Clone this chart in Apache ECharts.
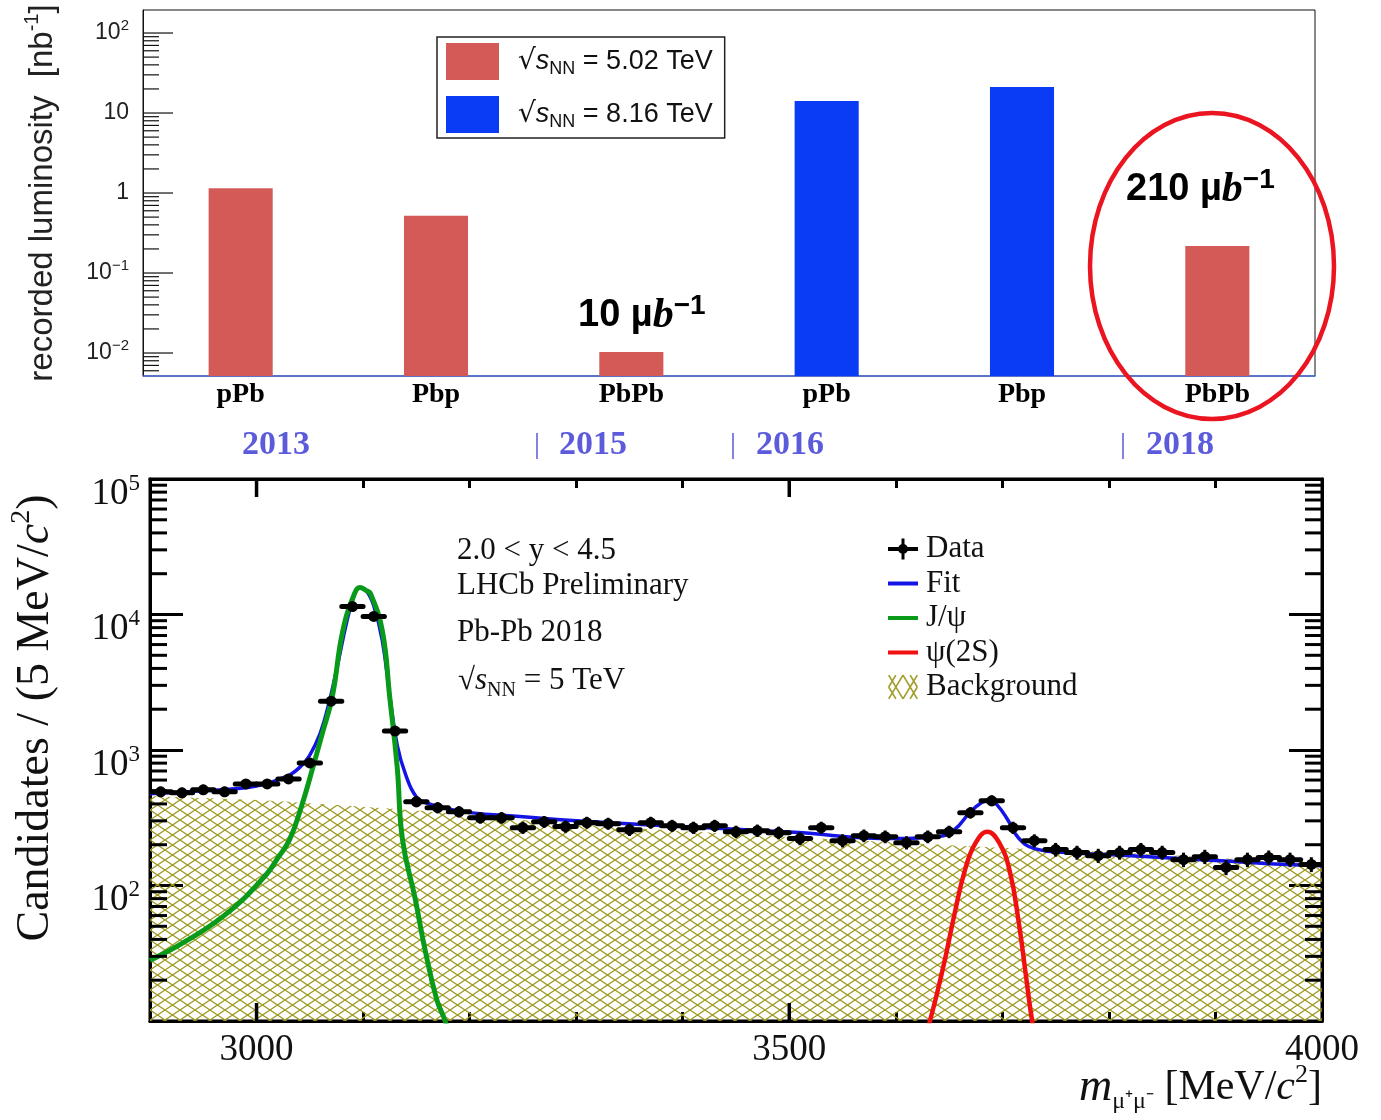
<!DOCTYPE html>
<html><head><meta charset="utf-8">
<script src="https://cdn.jsdelivr.net/npm/echarts@6/dist/echarts.min.js"></script>
<style>html,body{margin:0;padding:0;background:#fff}#c{width:1381px;height:1120px}</style>
</head><body><div id="c"></div>
<script>
// ---------- top panel: recorded luminosity ----------
const categories = ['pPb', 'Pbp', 'PbPb', 'pPb', 'Pbp', 'PbPb'];
const lumi502 = [1.15, 0.52, 0.0103, null, null, 0.217];
const lumi816 = [null, null, null, 14.1, 21.1, null];
const lumiSeriesNames = ['5.02 TeV', '8.16 TeV'];
const yearLabels = ['2013', '2015', '2016', '2018'];

// ---------- bottom panel: dimuon mass ----------
const massBins = [2910,2930,2950,2970,2990,3010,3030,3050,3070,3090,3110,3130,3150,3170,3190,3210,3230,3250,3270,3290,
  3310,3330,3350,3370,3390,3410,3430,3450,3470,3490,3510,3530,3550,3570,3590,3610,3630,3650,3670,3690,
  3710,3730,3750,3770,3790,3810,3830,3850,3870,3890,3910,3930,3950,3970,3990];
const dataCounts = [491,483,508,491,562,562,612,802,2293,11450,9670,1379,415,375,350,316,316,267,295,272,
  291,286,258,291,276,267,276,249,254,245,222,267,214,233,229,207,229,249,344,422,
  267,214,184,175,166,175,184,175,155,163,136,155,161,155,143];

const fitMass = [2900,2950,2980,3000,3020,3040,3055,3065,3075,3085,3092,3097,3103,3110,3118,3125,3132,3140,3150,3160,3180,3200,3250,3300,3400,3500,3600,3640,3655,3670,3680,3688,3695,3705,3715,3730,3760,3800,3850,3900,3950,4000];
const fitValues = [475,500,517,543,601,738,1089,1808,3873,9036,14030,15800,15000,11630,6440,2535,1089,655,450,405,368,345,322,300,272,248,222,230,258,350,407,429,394,306,225,187,175,169,161,153,145,140];

const jpsiMass = [2900,2934,2973,3009,3020,3031,3042,3053,3062,3071,3081,3092,3097,3103,3107,3118,3125,3132,3137,3149,3158,3169,3177,3185];
const jpsiValues = [28,39,63,120,160,218,380,750,1350,2455,7600,14300,15800,15000,14260,7620,2455,750,218,79,34,14.5,10,6];

const psi2sMass = [3620,3632,3645,3655,3665,3675,3686,3697,3707,3715,3722,3728,3738];
const psi2sValues = [5,10,26,61,131,207,249,207,127,56,22,10,4];

const bgMass = [2900,2950,3000,3050,3100,3150,3200,3250,3300,3400,3500,3600,3700,3800,3900,4000];
const bgValues = [458,442,427,405,382,358,332,305,282,252,228,208,190,176,160,140];

const xTickLabels = [3000, 3500, 4000];

const SERIF = '"Liberation Serif","Times New Roman",serif';
const SANS = '"Liberation Sans",Arial,sans-serif';

// minor log tick positions (axis structure)
function minorLogTicks(lo, hi) {
  const out = [];
  for (let n = -4; n <= 5; n++) for (let k = 2; k <= 9; k++) {
    const v = k * Math.pow(10, n);
    if (v > lo && v < hi) out.push(v);
  }
  return out;
}
function majorLogTicks(lo, hi) {
  const out = [];
  for (let n = -4; n <= 5; n++) { const v = Math.pow(10, n); if (v >= lo && v <= hi) out.push(v); }
  return out;
}

const topMin = 0.00516, topMax = 194;

// hatch pattern
const hatch = document.createElement('canvas');
hatch.width = 15; hatch.height = 10;
const hc = hatch.getContext('2d');
hc.strokeStyle = '#9e9a24'; hc.lineWidth = 1.3;
hc.beginPath(); hc.moveTo(0, 0); hc.lineTo(15, 10); hc.moveTo(0, 10); hc.lineTo(15, 0); hc.stroke();

function seg(x1, y1, x2, y2, w) {
  const dx = x2 - x1, dy = y2 - y1, L = Math.hypot(dx, dy);
  const nx = -dy / L * w / 2, ny = dx / L * w / 2;
  return 'M' + (x1 + nx) + ',' + (y1 + ny) + 'L' + (x2 + nx) + ',' + (y2 + ny) + 'L' + (x2 - nx) + ',' + (y2 - ny) + 'L' + (x1 - nx) + ',' + (y1 - ny) + 'Z';
}
const hatchIcon = 'path://' + seg(0, 0, 12, 20, 1.4) + seg(12, 0, 24, 20, 1.4) + seg(12, 0, 0, 20, 1.4) + seg(24, 0, 12, 20, 1.4) + seg(0, 10, 6, 0, 1.4) + seg(18, 0, 24, 10, 1.4) + seg(0, 10, 6, 20, 1.4) + seg(18, 20, 24, 10, 1.4);
const dataIcon = 'path://M0,12.5h30v4h-30zM13.5,4h3v21h-3zM20,14.5A5,5,0,1,1,10,14.5A5,5,0,1,1,20,14.5Z';
const lineIcon = 'path://M0,0h30v4h-30z';

function barItem(params, api) {
  const v = api.value(1);
  if (!(v > 0)) return null;
  const cs = params.coordSys;
  const p = api.coord([api.value(0), v]);
  const w = api.size([1, 0])[0] * 0.328;
  const base = cs.y + cs.height;
  return { type: 'rect', shape: { x: p[0] - w / 2, y: p[1], width: w, height: base - p[1] }, style: { fill: api.visual('color') } };
}

const chart = echarts.init(document.getElementById('c'));

const option = {
  animation: false,
  backgroundColor: '#fff',
  grid: [
    { left: 143, top: 10, width: 1172, height: 366, show: true, borderColor: '#111', borderWidth: 1, backgroundColor: 'transparent' },
    { left: 150, top: 479, width: 1172, height: 542, show: true, borderColor: '#000', borderWidth: 3, backgroundColor: 'transparent' }
  ],
  xAxis: [
    { type: 'category', gridIndex: 0, data: categories, boundaryGap: true,
      axisLine: { lineStyle: { color: '#4a72e0', width: 1.5 } }, axisTick: { show: false }, splitLine: { show: false },
      axisLabel: { color: '#000', fontFamily: SERIF, fontWeight: 'bold', fontSize: 28, margin: 5, interval: 0 } },
    { type: 'value', gridIndex: 1, position: 'bottom', min: 2900, max: 4000, interval: 100,
      axisLine: { lineStyle: { color: '#000', width: 3 } },
      axisTick: { inside: true, length: 9, lineStyle: { color: '#000', width: 3 } },
      splitLine: { show: false },
      axisLabel: { color: '#111', fontFamily: SERIF, fontSize: 37, margin: 11,
        formatter: v => (xTickLabels.indexOf(v) >= 0 ? String(v) : '') } },
    { type: 'value', gridIndex: 1, position: 'top', min: 2900, max: 4000, interval: 100,
      axisLine: { lineStyle: { color: '#000', width: 3 } },
      axisTick: { inside: true, length: 9, lineStyle: { color: '#000', width: 3 } },
      splitLine: { show: false }, axisLabel: { show: false } }
  ],
  yAxis: [
    { type: 'log', gridIndex: 0, min: topMin, max: topMax, logBase: 10,
      axisLine: { show: true, lineStyle: { color: '#111', width: 1 } }, axisTick: { show: false }, splitLine: { show: false },
      minorTick: { show: false }, minorSplitLine: { show: false },
      showMinLabel: false, showMaxLabel: false,
      axisLabel: { color: '#222', fontFamily: SANS, fontSize: 23, margin: 14, lineHeight: 30,
        rich: { sup: { fontFamily: SANS, fontSize: 15, lineHeight: 15, verticalAlign: 'top', color: '#222' } },
        formatter: v => { const e = Math.log10(v), r = Math.round(e); if (Math.abs(e - r) > 1e-6) return ''; if (r === 0) return '1'; if (r === 1) return '10'; return '10{sup|' + (r < 0 ? '\u2212' + (-r) : r) + '}'; } },
      name: 'recorded luminosity  [nb{sup|-1}]', nameLocation: 'middle', nameGap: 79, nameRotate: 90,
      nameTextStyle: { color: '#222', fontFamily: SANS, fontSize: 33, lineHeight: 42,
        rich: { sup: { fontFamily: SANS, fontSize: 20, lineHeight: 20, verticalAlign: 'top', color: '#222' } } } },
    { type: 'log', gridIndex: 1, min: 10, max: 100000, logBase: 10, position: 'left',
      axisLine: { show: true, lineStyle: { color: '#000', width: 3 } },
      axisTick: { inside: true, length: 33, lineStyle: { color: '#000', width: 3 } },
      splitLine: { show: false }, minorTick: { show: false }, minorSplitLine: { show: false },
      showMinLabel: false,
      axisLabel: { color: '#111', fontFamily: SERIF, fontSize: 37, margin: 10, lineHeight: 44, padding: [30, 0, 0, 0],
        rich: { sup: { fontFamily: SERIF, fontSize: 23, lineHeight: 23, verticalAlign: 'top', color: '#111' } },
        formatter: v => { const e = Math.log10(v), r = Math.round(e); if (Math.abs(e - r) > 1e-6 || r <= 1) return ''; return '10{sup|' + r + '}'; } } },
    { type: 'log', gridIndex: 1, min: 10, max: 100000, logBase: 10, position: 'right',
      axisLine: { show: true, lineStyle: { color: '#000', width: 3 } },
      axisTick: { inside: true, length: 33, lineStyle: { color: '#000', width: 3 } },
      splitLine: { show: false }, minorTick: { show: false }, axisLabel: { show: false } }
  ],
  legend: [
    { left: 437, top: 37, orient: 'vertical', padding: [6, 12, 5, 9], itemGap: 16, itemWidth: 53, itemHeight: 37,
      borderColor: '#222', borderWidth: 1.5, icon: 'rect', selectedMode: false,
      data: lumiSeriesNames,
      formatter: name => '{r|\u221A}{s|s}{sub|NN} = ' + name,
      textStyle: { color: '#111', fontFamily: SANS, fontSize: 27, lineHeight: 34, padding: [0, 0, 0, 14],
        rich: { r: { fontFamily: '"DejaVu Sans",sans-serif', fontSize: 28, color: '#111' },
                s: { fontFamily: SANS, fontSize: 27, fontStyle: 'italic', color: '#111' },
                sub: { fontFamily: SANS, fontSize: 18, lineHeight: 18, verticalAlign: 'bottom', color: '#111' } } } },
    { left: 888, top: 533, orient: 'vertical', padding: 0, itemGap: 2.5, itemWidth: 30, itemHeight: 28, selectedMode: false,
      data: [ { name: 'Data', icon: dataIcon }, { name: 'Fit', icon: lineIcon }, { name: 'J/\u03C8', icon: lineIcon },
              { name: '\u03C8(2S)', icon: lineIcon }, { name: 'Background', icon: hatchIcon, itemStyle: { color: '#a29e2a' } } ],
      textStyle: { color: '#111', fontFamily: SERIF, fontSize: 31, lineHeight: 32, padding: [0, 0, 0, 3] } }
  ],
  series: [
    { name: lumiSeriesNames[0], type: 'custom', xAxisIndex: 0, yAxisIndex: 0, color: '#d35a56', renderItem: barItem,
      data: lumi502.map((v, i) => v == null ? null : [i, v]).filter(Boolean) },
    { name: lumiSeriesNames[1], type: 'custom', xAxisIndex: 0, yAxisIndex: 0, color: '#0a3cf5', renderItem: barItem,
      data: lumi816.map((v, i) => v == null ? null : [i, v]).filter(Boolean) },
    { name: 'topTicks', type: 'custom', xAxisIndex: 0, yAxisIndex: 0, silent: true,
      data: majorLogTicks(topMin, topMax).map(v => [0, v, 30]).concat(minorLogTicks(topMin, topMax).map(v => [0, v, 16])),
      renderItem: (params, api) => { const cs = params.coordSys; const y = api.coord([0, api.value(1)])[1];
        return { type: 'line', shape: { x1: cs.x, y1: y, x2: cs.x + api.value(2), y2: y }, style: { stroke: '#111', lineWidth: 1.2 } }; } },
    { name: 'Background', type: 'line', xAxisIndex: 1, yAxisIndex: 1, color: '#a29e2a', smooth: 0.4, showSymbol: false, symbol: 'none',
      data: bgMass.map((m, i) => [m, bgValues[i]]), lineStyle: { width: 0, opacity: 0 },
      areaStyle: { origin: 'start', opacity: 1, color: { image: hatch, repeat: 'repeat' } }, z: 1 },
    { name: 'Fit', type: 'line', xAxisIndex: 1, yAxisIndex: 1, color: '#1414e6', smooth: 0.45, showSymbol: false, symbol: 'none',
      data: fitMass.map((m, i) => [m, fitValues[i]]), lineStyle: { width: 3.5, color: '#1414e6' }, z: 2 },
    { name: 'J/\u03C8', type: 'line', xAxisIndex: 1, yAxisIndex: 1, color: '#0a9a1a', smooth: 0.45, showSymbol: false, symbol: 'none',
      data: jpsiMass.map((m, i) => [m, jpsiValues[i]]), lineStyle: { width: 5, color: '#0a9a1a' }, z: 3 },
    { name: '\u03C8(2S)', type: 'line', xAxisIndex: 1, yAxisIndex: 1, color: '#f01010', smooth: 0.45, showSymbol: false, symbol: 'none',
      data: psi2sMass.map((m, i) => [m, psi2sValues[i]]), lineStyle: { width: 4.5, color: '#f01010' }, z: 3 },
    { name: 'Data', type: 'custom', xAxisIndex: 1, yAxisIndex: 1, color: '#000', clip: true, z: 5,
      data: massBins.map((m, i) => [m, dataCounts[i]]),
      renderItem: (params, api) => {
        const x = api.value(0), y = api.value(1);
        const c = api.coord([x, y]), l = api.coord([x - 10, y]), r = api.coord([x + 10, y]);
        const e = Math.sqrt(y);
        const t = api.coord([x, y + e]), b = api.coord([x, y - e]);
        return { type: 'group', children: [
          { type: 'line', shape: { x1: l[0], y1: c[1], x2: r[0], y2: c[1] }, style: { stroke: '#000', lineWidth: 5, lineCap: 'round' } },
          { type: 'line', shape: { x1: c[0], y1: t[1] - 2.5, x2: c[0], y2: b[1] + 2.5 }, style: { stroke: '#000', lineWidth: 3 } },
          { type: 'circle', shape: { cx: c[0], cy: c[1], r: 5.5 }, style: { fill: '#000' } } ] };
      } },
    { name: 'bottomYTicks', type: 'custom', xAxisIndex: 1, yAxisIndex: 1, silent: true, z: 6,
      data: minorLogTicks(10, 100000).map(v => [3000, v]),
      renderItem: (params, api) => { const cs = params.coordSys; const y = api.coord([3000, api.value(1)])[1];
        return { type: 'group', children: [
          { type: 'line', shape: { x1: cs.x, y1: y, x2: cs.x + 17, y2: y }, style: { stroke: '#000', lineWidth: 3 } },
          { type: 'line', shape: { x1: cs.x + cs.width, y1: y, x2: cs.x + cs.width - 17, y2: y }, style: { stroke: '#000', lineWidth: 3 } } ] }; } },
    { name: 'bottomXTicks', type: 'custom', xAxisIndex: 1, yAxisIndex: 1, silent: true, z: 6,
      data: [[3000, 10], [3500, 10]],
      renderItem: (params, api) => { const cs = params.coordSys; const x = api.coord([api.value(0), 10])[0];
        return { type: 'group', children: [
          { type: 'line', shape: { x1: x, y1: cs.y + cs.height, x2: x, y2: cs.y + cs.height - 18 }, style: { stroke: '#000', lineWidth: 3.5 } },
          { type: 'line', shape: { x1: x, y1: cs.y, x2: x, y2: cs.y + 18 }, style: { stroke: '#000', lineWidth: 3.5 } } ] }; } }
  ],
  graphic: [
    // year labels
    { type: 'text', x: 276, y: 445, style: { text: yearLabels[0], font: 'bold 34px ' + SERIF, fill: '#5b5bdc', align: 'center', verticalAlign: 'middle' } },
    { type: 'text', x: 537, y: 445, style: { text: '|', font: '30px ' + SERIF, fill: '#5b5bdc', align: 'center', verticalAlign: 'middle' } },
    { type: 'text', x: 593, y: 445, style: { text: yearLabels[1], font: 'bold 34px ' + SERIF, fill: '#5b5bdc', align: 'center', verticalAlign: 'middle' } },
    { type: 'text', x: 733, y: 445, style: { text: '|', font: '30px ' + SERIF, fill: '#5b5bdc', align: 'center', verticalAlign: 'middle' } },
    { type: 'text', x: 790, y: 445, style: { text: yearLabels[2], font: 'bold 34px ' + SERIF, fill: '#5b5bdc', align: 'center', verticalAlign: 'middle' } },
    { type: 'text', x: 1123, y: 445, style: { text: '|', font: '30px ' + SERIF, fill: '#5b5bdc', align: 'center', verticalAlign: 'middle' } },
    { type: 'text', x: 1180, y: 445, style: { text: yearLabels[3], font: 'bold 34px ' + SERIF, fill: '#5b5bdc', align: 'center', verticalAlign: 'middle' } },
    // luminosity annotations
    { type: 'text', x: 578, y: 316, style: { text: '10 \u00B5{b|b}{sup|\u22121}', font: 'bold 38px ' + SANS, fill: '#000', align: 'left', verticalAlign: 'middle', lineHeight: 48,
      rich: { b: { font: 'bold italic 42px "Liberation Serif",serif', fill: '#000' }, sup: { font: 'bold 28px ' + SANS, lineHeight: 28, verticalAlign: 'top', fill: '#000' } } } },
    { type: 'text', x: 1126, y: 190, style: { text: '210 \u00B5{b|b}{sup|\u22121}', font: 'bold 38px ' + SANS, fill: '#000', align: 'left', verticalAlign: 'middle', lineHeight: 48,
      rich: { b: { font: 'bold italic 42px "Liberation Serif",serif', fill: '#000' }, sup: { font: 'bold 28px ' + SANS, lineHeight: 28, verticalAlign: 'top', fill: '#000' } } } },
    { type: 'ellipse', shape: { cx: 1212, cy: 266, rx: 122, ry: 153 }, style: { fill: 'transparent', stroke: '#ea1520', lineWidth: 4.5 }, z: 10 },
    // bottom panel texts
    { type: 'text', x: 457, y: 551, style: { text: '2.0 < y < 4.5', font: '31px ' + SERIF, fill: '#111', verticalAlign: 'middle' } },
    { type: 'text', x: 457, y: 586, style: { text: 'LHCb Preliminary', font: '31px ' + SERIF, fill: '#111', verticalAlign: 'middle' } },
    { type: 'text', x: 457, y: 633, style: { text: 'Pb-Pb 2018', font: '31px ' + SERIF, fill: '#111', verticalAlign: 'middle' } },
    { type: 'text', x: 458, y: 681, style: { text: '\u221A{i|s}{sub|NN} = 5 TeV', font: '31px ' + SERIF, fill: '#111', verticalAlign: 'middle', lineHeight: 40,
      rich: { i: { font: 'italic 31px ' + SERIF, fill: '#111' }, sub: { font: '20px ' + SERIF, lineHeight: 20, verticalAlign: 'bottom', fill: '#111' } } } },
    { type: 'text', x: 36, y: 718, rotation: Math.PI / 2, style: { text: 'Candidates / (5 MeV/{i|c}{sup|2})', font: '46px ' + SERIF, fill: '#111', align: 'center', verticalAlign: 'middle', lineHeight: 56,
      rich: { i: { font: 'italic 46px ' + SERIF, fill: '#111' }, sup: { font: '28px ' + SERIF, lineHeight: 28, verticalAlign: 'top', fill: '#111' } } } },
    { type: 'text', x: 1322, y: 1088, style: { text: '{m|m}{sub|\u03BC\u207A\u03BC\u207B} [MeV/{i|c}{sup|2}]', font: '42px ' + SERIF, fill: '#111', align: 'right', verticalAlign: 'middle', lineHeight: 52,
      rich: { m: { font: 'italic 46px ' + SERIF, fill: '#111' }, i: { font: 'italic 42px ' + SERIF, fill: '#111' },
              sub: { font: '24px ' + SERIF, lineHeight: 24, verticalAlign: 'bottom', fill: '#111' },
              sup: { font: '26px ' + SERIF, lineHeight: 26, verticalAlign: 'top', fill: '#111' } } } }
  ]
};
chart.setOption(option);
</script>
</body></html>
